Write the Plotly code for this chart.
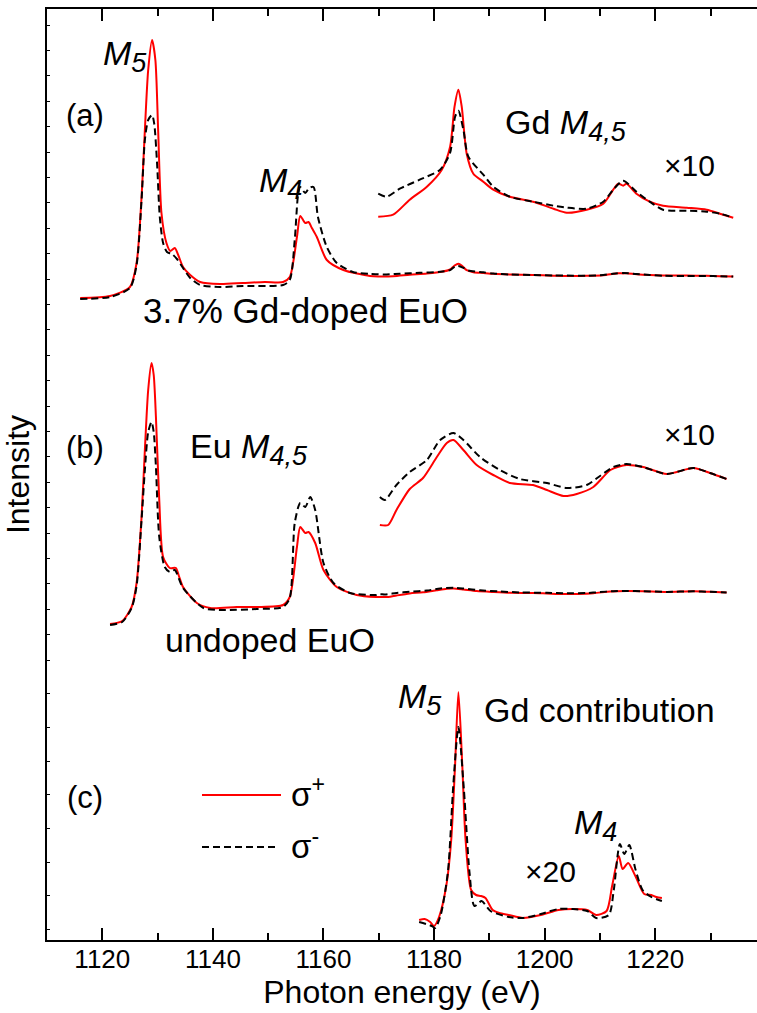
import numpy as np
import plotly.graph_objects as go

# ---------------- spectra (photon energy in eV, intensity in arb. units) ----------------
# (a) 3.7% Gd-doped EuO, Eu M4,5 region
a_E_plus = [1116.0, 1121.4, 1125.0, 1126.2, 1127.1, 1127.7, 1128.3, 1129.0, 1129.6, 1130.1,
            1130.7, 1131.6, 1132.3, 1133.1, 1133.8, 1134.6, 1135.9, 1137.7, 1141.3, 1145.4,
            1149.4, 1152.7, 1153.9, 1155.2, 1155.8, 1156.7, 1157.3, 1157.9, 1158.8, 1160.6,
            1163.6, 1168.4]
a_plus = [0.00, 0.02, 0.11, 0.35, 1.01, 1.68, 2.28, 2.58, 2.38, 1.68,
          0.85, 0.55, 0.47, 0.50, 0.42, 0.31, 0.23, 0.16, 0.14, 0.15,
          0.16, 0.16, 0.21, 0.61, 0.82, 0.75, 0.76, 0.70, 0.61, 0.38,
          0.28, 0.22]
a_E_minus = [1116.0, 1121.4, 1125.0, 1126.2, 1127.1, 1127.7, 1128.3, 1129.0, 1129.4, 1129.9,
             1130.4, 1131.0, 1131.7, 1132.6, 1133.5, 1134.6, 1135.9, 1137.7, 1141.3, 1145.4,
             1152.7, 1153.9, 1154.8, 1155.4, 1155.8, 1156.7, 1157.4, 1158.2, 1159.0, 1160.6,
             1162.4, 1165.3, 1168.4]
a_minus = [-0.01, 0.01, 0.10, 0.33, 0.98, 1.58, 1.78, 1.83, 1.74, 1.35,
           0.81, 0.55, 0.46, 0.44, 0.39, 0.30, 0.20, 0.13, 0.11, 0.12,
           0.13, 0.18, 0.58, 1.03, 1.11, 1.05, 1.10, 1.11, 0.81, 0.51,
           0.35, 0.26, 0.24]

# (a) Gd M4,5 region, values magnified x10
gd_a_E_plus = [1169.9, 1172.6, 1175.6, 1178.7, 1181.4, 1182.9, 1183.7, 1184.4, 1185.0, 1185.9,
               1187.1, 1188.9, 1190.7, 1193.7, 1197.9, 1201.6, 1204.0, 1207.6, 1210.6, 1212.4,
               1213.3, 1214.2, 1214.8, 1216.6, 1219.0, 1221.4, 1225.7, 1229.3, 1231.7, 1234.1]
gd_a_plus10 = [2.15, 2.17, 2.32, 2.45, 2.62, 2.85, 3.25, 3.42, 3.25, 2.78,
               2.58, 2.50, 2.42, 2.35, 2.30, 2.23, 2.19, 2.22, 2.28, 2.42,
               2.48, 2.46, 2.48, 2.38, 2.30, 2.26, 2.24, 2.22, 2.18, 2.14]
gd_a_E_minus = [1169.9, 1171.4, 1173.8, 1177.4, 1181.1, 1182.9, 1183.8, 1184.4, 1185.3, 1186.2,
                1188.9, 1190.7, 1193.7, 1197.9, 1201.6, 1204.0, 1207.6, 1210.6, 1212.4, 1214.2,
                1216.6, 1219.0, 1221.4, 1225.7, 1229.3, 1231.7, 1234.1]
gd_a_minus10 = [2.38, 2.35, 2.43, 2.52, 2.62, 2.79, 3.15, 3.21, 3.02, 2.75,
                2.57, 2.45, 2.35, 2.30, 2.26, 2.24, 2.23, 2.30, 2.42, 2.51,
                2.40, 2.30, 2.22, 2.21, 2.20, 2.18, 2.14]

# (b) undoped EuO, Eu M4,5 region
b_E_plus = [1121.4, 1123.6, 1125.3, 1126.2, 1127.1, 1127.7, 1128.3, 1128.9, 1129.3, 1129.7,
            1130.3, 1131.0, 1132.2, 1133.3, 1133.8, 1134.6, 1137.1, 1139.5, 1144.3, 1147.9,
            1152.7, 1153.9, 1155.2, 1155.8, 1156.7, 1157.3, 1158.5, 1160.0, 1162.4, 1166.0,
            1169.5]
b_plus = [0.00, 0.03, 0.17, 0.41, 1.07, 1.74, 2.34, 2.61, 2.49, 2.07,
          1.24, 0.67, 0.56, 0.56, 0.49, 0.37, 0.21, 0.16, 0.17, 0.17,
          0.19, 0.27, 0.77, 0.97, 0.91, 0.92, 0.81, 0.54, 0.37, 0.29,
          0.27]
b_E_minus = [1121.4, 1123.6, 1125.3, 1126.2, 1127.1, 1127.7, 1128.3, 1128.9, 1129.3, 1129.7,
             1130.3, 1131.3, 1132.2, 1133.1, 1134.6, 1138.3, 1141.9, 1147.9, 1152.7, 1153.9,
             1154.8, 1155.8, 1156.7, 1157.6, 1158.5, 1160.0, 1161.8, 1164.8, 1169.5]
b_minus = [-0.01, 0.02, 0.16, 0.38, 1.04, 1.54, 1.92, 2.02, 1.92, 1.57,
           0.87, 0.57, 0.52, 0.54, 0.36, 0.16, 0.14, 0.15, 0.17, 0.26,
           1.01, 1.21, 1.17, 1.27, 1.14, 0.61, 0.41, 0.31, 0.29]

# (b) Gd M4,5 energy range, values magnified x10
gd_b_E_plus = [1170.2, 1171.7, 1173.2, 1175.6, 1178.0, 1180.5, 1182.3, 1183.5, 1185.3, 1187.7,
               1190.7, 1193.7, 1197.9, 1200.4, 1203.4, 1205.8, 1208.8, 1211.9, 1214.8, 1217.8,
               1222.1, 1226.9, 1229.9, 1232.9]
gd_b_plus10 = [2.70, 2.70, 2.85, 3.06, 3.17, 3.38, 3.52, 3.55, 3.45, 3.30,
               3.20, 3.12, 3.10, 3.05, 2.99, 3.01, 3.08, 3.25, 3.30, 3.28,
               3.21, 3.27, 3.22, 3.16]
gd_b_E_minus = [1170.2, 1171.1, 1173.2, 1175.6, 1178.7, 1181.1, 1183.5, 1185.3, 1188.3, 1191.9,
                1195.5, 1200.4, 1204.0, 1207.6, 1210.0, 1212.4, 1214.8, 1217.8, 1222.1, 1226.9,
                1229.9, 1232.9]
gd_b_minus10 = [2.98, 2.95, 3.10, 3.23, 3.35, 3.55, 3.62, 3.55, 3.38, 3.25,
                3.16, 3.12, 3.07, 3.10, 3.19, 3.28, 3.31, 3.28, 3.21, 3.27,
                3.22, 3.16]

# (c) Gd contribution (difference spectrum, x20)
c_E_plus = [1177.3, 1178.3, 1179.3, 1180.0, 1180.9, 1182.2, 1183.1, 1183.8, 1184.4, 1185.1,
            1185.7, 1186.7, 1187.6, 1188.5, 1189.3, 1190.6, 1191.8, 1193.5, 1196.1, 1199.3,
            1202.5, 1205.1, 1207.7, 1209.3, 1211.2, 1212.2, 1213.4, 1214.1, 1215.1, 1216.4,
            1218.0, 1219.3, 1220.2, 1221.2]
c_plus = [0.02, 0.03, 0.00, -0.04, 0.05, 0.36, 0.82, 1.57, 2.30, 1.57,
          0.82, 0.32, 0.27, 0.26, 0.24, 0.12, 0.09, 0.07, 0.04, 0.07,
          0.12, 0.13, 0.12, 0.07, 0.11, 0.36, 0.66, 0.53, 0.59, 0.46,
          0.28, 0.27, 0.25, 0.24]
c_E_minus = [1177.3, 1179.6, 1180.2, 1181.2, 1182.5, 1183.5, 1184.4, 1185.4, 1186.4, 1187.3,
             1188.6, 1190.2, 1193.5, 1196.1, 1199.3, 1202.5, 1205.1, 1207.7, 1209.3, 1211.6,
             1212.5, 1213.6, 1214.4, 1215.3, 1216.4, 1217.7, 1219.3, 1221.2]
c_minus = [0.00, -0.04, -0.06, 0.07, 0.50, 1.39, 1.95, 1.32, 0.50, 0.16,
           0.21, 0.11, 0.05, 0.04, 0.08, 0.13, 0.13, 0.11, 0.04, 0.07,
           0.32, 0.78, 0.68, 0.77, 0.53, 0.32, 0.25, 0.21]

# vertical offsets of the stacked spectra
OFF_A, OFF_A10 = 6.42, 5.083
OFF_B, OFF_B10 = 3.16, 1.45
OFF_C = 0.18

# ---------------- layout geometry ----------------
W, H = 757, 1013
ML, MR, MT, MB = 47, 0, 9, 73
X_RANGE = [1110.0, 1238.4]
Y_RANGE = [0.0, 9.31]
PW, PH = W - ML - MR, H - MT - MB

FONT = "Liberation Sans, Arial, Helvetica, sans-serif"
RED, BLACK = "#ff0000", "#000000"
DASH = "7px,4px"


def paper(px, py):
    """Pixel position on the page -> paper coordinates."""
    return (px - ML) / PW, (H - MB - py) / PH


fig = go.Figure()


def add_pair(xp, yp, xm, ym):
    fig.add_trace(go.Scatter(x=xp, y=yp, mode="lines",
                             line=dict(color=RED, width=2, shape="spline", smoothing=0.7),
                             hoverinfo="skip"))
    fig.add_trace(go.Scatter(x=xm, y=ym, mode="lines",
                             line=dict(color=BLACK, width=2, dash=DASH, shape="spline", smoothing=0.7),
                             hoverinfo="skip"))


# (a) full spectrum, then Gd region magnified x10
add_pair(a_E_plus + gd_a_E_plus, OFF_A + np.concatenate([a_plus, np.array(gd_a_plus10) / 10]),
         a_E_minus + gd_a_E_minus, OFF_A + np.concatenate([a_minus, np.array(gd_a_minus10) / 10]))
add_pair(gd_a_E_plus, OFF_A10 + np.array(gd_a_plus10),
         gd_a_E_minus, OFF_A10 + np.array(gd_a_minus10))

# (b)
add_pair(b_E_plus + gd_b_E_plus, OFF_B + np.concatenate([b_plus, np.array(gd_b_plus10) / 10]),
         b_E_minus + gd_b_E_minus, OFF_B + np.concatenate([b_minus, np.array(gd_b_minus10) / 10]))
add_pair(gd_b_E_plus, OFF_B10 + np.array(gd_b_plus10),
         gd_b_E_minus, OFF_B10 + np.array(gd_b_minus10))

# (c)
add_pair(c_E_plus, OFF_C + np.array(c_plus), c_E_minus, OFF_C + np.array(c_minus))

# invisible trace on the top axis so that it gets drawn
fig.add_trace(go.Scatter(x=X_RANGE, y=Y_RANGE, xaxis="x2", yaxis="y", mode="lines",
                         line=dict(width=0), opacity=0, hoverinfo="skip", showlegend=False))

# ---------------- text labels ----------------
M_SUB = "<i>M</i><sub><span style='font-size:27px'><i>{}</i></span></sub>"
labels = [
    (M_SUB.format("5"), 125, 56, 34),
    ("(a)", 85, 115, 31),
    (M_SUB.format("4"), 280, 183, 34),
    ("3.7% Gd-doped EuO", 305, 310, 35),
    ("Gd " + M_SUB.format("4,5"), 566, 125, 34),
    ("×10", 689, 166, 30),
    ("(b)", 85, 447, 31),
    ("Eu " + M_SUB.format("4,5"), 249, 449, 34),
    ("×10", 689, 434, 30),
    ("undoped EuO", 270, 640, 34),
    ("(c)", 85, 797, 31),
    (M_SUB.format("5"), 420, 699, 34),
    ("Gd contribution", 599, 710, 34),
    (M_SUB.format("4"), 595, 825, 34),
    ("×20", 550, 871, 30),
]
annotations = []
for text, px, py, size in labels:
    x, y = paper(px, py)
    annotations.append(dict(text=text, x=x, y=y, xref="paper", yref="paper",
                            xanchor="center", yanchor="middle", showarrow=False,
                            font=dict(family=FONT, size=size, color="black")))

# legend: line samples + sigma labels
shapes = []
for (px0, px1, py, color, dash) in [(202, 281, 795, RED, "solid"), (202, 276, 847, BLACK, DASH)]:
    x0, y0 = paper(px0, py)
    x1, _ = paper(px1, py)
    shapes.append(dict(type="line", xref="paper", yref="paper", x0=x0, x1=x1, y0=y0, y1=y0,
                       line=dict(color=color, width=2, dash=dash)))
for text, py in [("σ<sup>+</sup>", 792), ("σ<sup>-</sup>", 844)]:
    x, y = paper(289, py)
    annotations.append(dict(text=text, x=x, y=y, xref="paper", yref="paper",
                            xanchor="left", yanchor="middle", showarrow=False,
                            font=dict(family=FONT, size=33, color="black")))

# y-axis minor tick marks (no labels)
ytick_px = [25 + 25.4 * k for k in range(26)] + [693.7 + 33.7 * j for j in range(8)]
ytickvals = [(H - MB - p) / PH * (Y_RANGE[1] - Y_RANGE[0]) for p in ytick_px]

tick_style = dict(
    range=X_RANGE, tickmode="linear", tick0=1120, dtick=20,
    ticks="inside", ticklen=12, tickwidth=1.5, tickcolor="black",
    minor=dict(ticks="inside", ticklen=7, tickwidth=1.5, tickcolor="black", dtick=10, tick0=1110),
    showline=True, linecolor="black", linewidth=2,
    showgrid=False, zeroline=False, automargin=False,
)

fig.update_layout(
    width=W, height=H,
    margin=dict(l=ML, r=MR, t=MT, b=MB, pad=0),
    paper_bgcolor="white", plot_bgcolor="white",
    showlegend=False,
    font=dict(family=FONT, color="black"),
    annotations=annotations,
    shapes=shapes,
    xaxis=dict(
        **tick_style,
        tickfont=dict(family=FONT, size=26),
        ticklabelstandoff=-5,
        title=dict(text="Photon energy (eV)", font=dict(family=FONT, size=32), standoff=6),
    ),
    xaxis2=dict(
        **tick_style,
        overlaying="x", side="top", anchor="y",
        showticklabels=False,
    ),
    yaxis=dict(
        range=Y_RANGE, tickmode="array", tickvals=ytickvals,
        ticks="inside", ticklen=3, tickwidth=1, tickcolor="black",
        showticklabels=False,
        showline=True, linecolor="black", linewidth=2, mirror=False,
        showgrid=False, zeroline=False,
        title=dict(text="Intensity", font=dict(family=FONT, size=32), standoff=6),
        automargin=False,
    ),
)

fig.write_html("out.html")
